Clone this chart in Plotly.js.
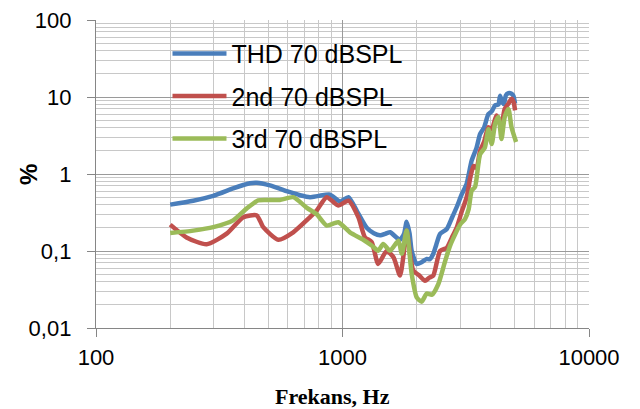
<!DOCTYPE html>
<html>
<head>
<meta charset="utf-8">
<script src="https://cdn.plot.ly/plotly-3.0.1.min.js"></script>
<style>html,body{margin:0;padding:0;background:#fff;}#chart{width:640px;height:409px;}</style>
</head>
<body>
<div id="chart"></div>
<script>
// THD 70 dBSPL
const thdFreq = [200,248,299,360,396,421,449,508,612,673,738,800,890,977,1057,1150,1254,1340,1419,1510,1560,1711,1780,1820,1870,1909,2000,2100,2197,2260,2335,2400,2488,2649,2780,2904,3050,3190,3343,3500,3614,3750,3908,4030,4160,4290,4357,4450,4518,4600,4710,4850,4933,5012];
const thdVal  = [0.40,0.45,0.52,0.65,0.72,0.76,0.77,0.71,0.58,0.53,0.50,0.52,0.54,0.44,0.50,0.32,0.20,0.17,0.16,0.17,0.175,0.14,0.17,0.24,0.17,0.10,0.068,0.072,0.079,0.078,0.092,0.12,0.167,0.193,0.27,0.37,0.55,0.75,1.5,2.2,3.3,4.0,6.0,6.5,7.8,8.0,10.4,8.5,8.1,10.5,11.2,11.0,10.4,8.2];
// 2nd 70 dBSPL
const h2Freq = [200,233,281,339,396,449,477,549,631,738,786,863,961,1057,1159,1233,1313,1396,1510,1610,1711,1770,1820,1936,2050,2163,2250,2335,2488,2649,2780,2904,3050,3190,3300,3400,3500,3614,3750,3908,4030,4215,4416,4550,4710,4850,4950,5012];
const h2Val  = [0.22,0.15,0.122,0.168,0.275,0.29,0.204,0.14,0.175,0.275,0.336,0.5,0.39,0.45,0.275,0.151,0.131,0.068,0.10,0.083,0.048,0.09,0.185,0.056,0.048,0.041,0.045,0.048,0.10,0.11,0.15,0.20,0.33,0.5,0.9,1.27,1.2,2.0,2.6,4.05,3.8,5.75,4.5,7.0,8.2,9.5,8.5,6.7];
// 3rd 70 dBSPL
const h3Freq = [200,248,299,360,408,455,508,557,631,717,786,863,961,1072,1214,1313,1396,1462,1560,1686,1740,1820,1909,2000,2095,2197,2305,2446,2612,2740,3000,3140,3250,3343,3450,3614,3780,3908,4030,4160,4290,4416,4550,4710,4850,5060];
const h3Val  = [0.171,0.184,0.204,0.25,0.355,0.455,0.46,0.46,0.5,0.364,0.3,0.214,0.236,0.175,0.14,0.118,0.101,0.123,0.101,0.136,0.092,0.185,0.05,0.025,0.022,0.028,0.027,0.037,0.075,0.12,0.22,0.26,0.35,0.61,0.68,1.8,2.2,3.8,2.45,4.5,5.5,2.85,5.5,7.0,4.05,2.6];

const seriesNames = ['THD 70 dBSPL','2nd 70 dBSPL','3rd 70 dBSPL'];
const seriesColors = ['#4A7EBB','#C0504D','#9BBB59'];

const yTickVals = [0.01,0.1,1,10,100];
const yTickText = ['0,01','0,1','1','10','100'];
const xTickVals = [100,1000,10000];
const xTickText = ['100','1000','10000'];

const xs = [thdFreq,h2Freq,h3Freq];
const ys = [thdVal,h2Val,h3Val];
const traces = xs.map((x,i)=>({
  x:x, y:ys[i], type:'scatter', mode:'lines', name:seriesNames[i],
  legendgroup:'g'+i,
  line:{color:seriesColors[i], width:4.5, shape:'spline', smoothing:0.6}
}));

const layout = {
  width:640, height:409,
  margin:{l:96, r:51, t:20, b:81},
  paper_bgcolor:'#fff', plot_bgcolor:'#fff',
  font:{family:'Liberation Sans, Arial, sans-serif', color:'#000'},
  showlegend:true,
  legend:{x:0.145, y:0.965, xanchor:'left', yanchor:'top', bgcolor:'rgba(255,255,255,0)',
          font:{size:25, family:'Liberation Sans, Arial, sans-serif'}, tracegroupgap:7, itemwidth:54},
  xaxis:{type:'log', range:[2,4], tickmode:'array', tickvals:xTickVals, ticktext:xTickText,
         tickfont:{size:22}, ticks:'outside', ticklen:8, tickcolor:'#868686', ticklabelstandoff:1,
         showline:true, linecolor:'#868686', linewidth:1.2, mirror:false,
         showgrid:true, gridcolor:'#9a9a9a', gridwidth:1, zeroline:false,
         minor:{dtick:'D1', showgrid:true, gridcolor:'#c8c8c8', gridwidth:1, ticks:''}},
  yaxis:{type:'log', range:[-2,2], tickmode:'array', tickvals:yTickVals, ticktext:yTickText,
         tickfont:{size:22}, ticks:'outside', ticklen:8, tickcolor:'#868686', ticklabelstandoff:11,
         showline:true, linecolor:'#868686', linewidth:1.2,
         showgrid:true, gridcolor:'#9a9a9a', gridwidth:1, zeroline:false,
         minor:{dtick:'D1', showgrid:true, gridcolor:'#c8c8c8', gridwidth:1, ticks:''}},
  annotations:[
    {text:'<b>%</b>', xref:'paper', yref:'paper', x:-0.138, y:0.5, xanchor:'center', yanchor:'middle',
     showarrow:false, textangle:-90, font:{size:24, family:'Liberation Sans, Arial, sans-serif'}},
    {text:'<b>Frekans, Hz</b>', xref:'paper', yref:'paper', x:0.479, y:-0.222, xanchor:'center', yanchor:'middle',
     showarrow:false, font:{size:22, family:'Liberation Serif, Times New Roman, serif'}}
  ]
};
Plotly.newPlot('chart', traces, layout, {staticPlot:true, displayModeBar:false});
</script>
</body>
</html>
